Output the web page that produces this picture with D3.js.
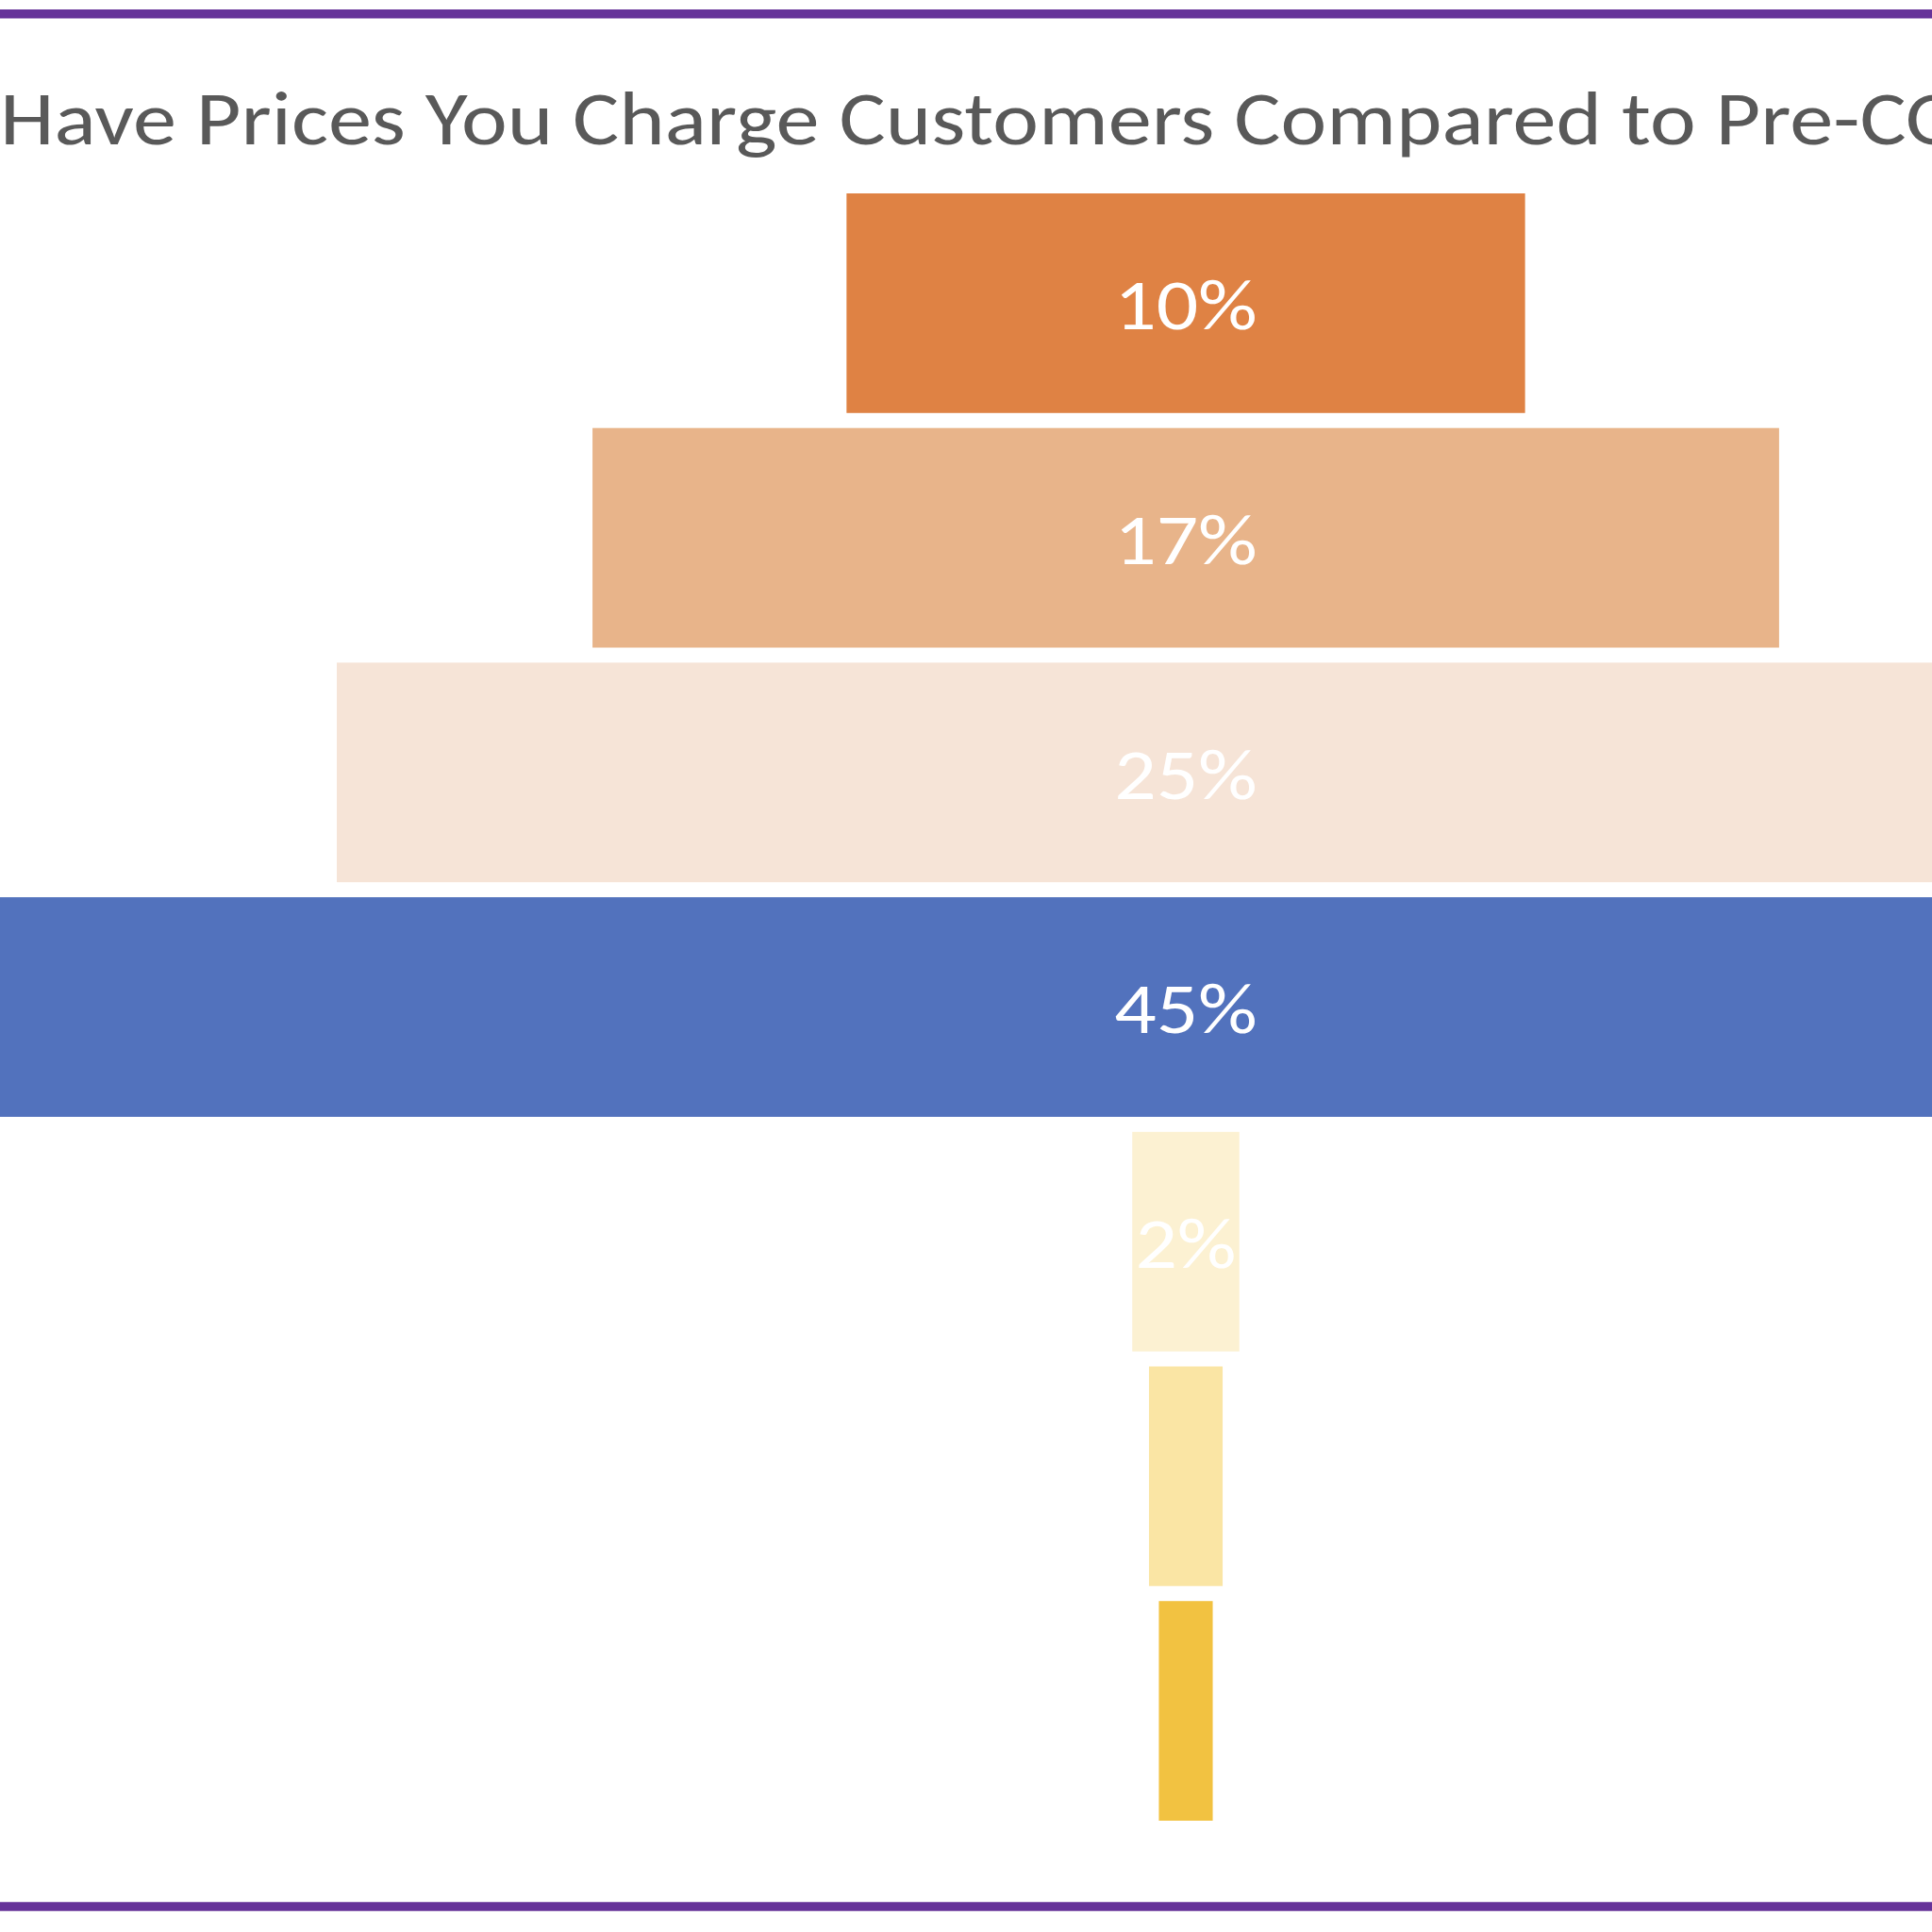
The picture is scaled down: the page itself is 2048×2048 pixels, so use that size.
<!DOCTYPE html>
<html>
<head>
<meta charset="utf-8">
<script src="https://cdn.jsdelivr.net/npm/d3@7"></script>
<style>
    html, body { margin: 0; padding: 0; background: #fff; overflow: hidden; }
    .container { width: 2048px; height: 2048px; }
</style>
</head>
<body>
<div class="container"></div>
<script>
const TITLE = "How Have Prices You Charge Customers Compared to Pre-COVID?";
const categories = ["Increased more than 10%", "Increased 5-10%", "Increased 1-4%", "No change",
    "Decreased 1-4%", "Decreased 5-10%", "Decreased more than 10%"];
const values = [0.0995, 0.174, 0.249, 0.45, 0.0157, 0.0108, 0.0079];
const colors = ["#df8244", "#e8b48a", "#f6e4d7", "#5272bd", "#fcf1d2", "#fae5a4", "#f2c241"];

const render = () => {
    const width = 2048,
        height = 2048,
        cx = 1257,
        data = categories.map((c, i) => ({category: c, value: values[i], color: colors[i]}));

    const svg = d3.select('.container')
        .append('svg')
        .attr('width', width)
        .attr('height', height)
        .style('font-family', "Carlito, Calibri, 'Open Sans', sans-serif");

    // purple rules top and bottom
    svg.selectAll('.rule')
        .data([14.7, 2021])
        .enter()
        .append('line')
        .attr('class', 'rule')
        .attr('x1', 0)
        .attr('x2', width)
        .attr('y1', d => d)
        .attr('y2', d => d)
        .attr('stroke', '#663399')
        .attr('stroke-width', 9.5);

    // title: text is wider than the picture, the visible part runs from "Have" to "Pre-CO"
    const title = svg.append('text')
        .attr('font-size', 81)
        .attr('fill', '#595959');
    const measure = s => { title.text(s); return title.node().getComputedTextLength(); };
    const wPrefix = measure("How Have") - measure("Have"),
        wVisible = measure("Have Prices You Charge Customers Compared to Pre-C"),
        k = 2021 / wVisible;
    title.text(TITLE)
        .attr('transform', `translate(${-k * wPrefix},153) scale(${k},1)`);

    const x = d3.scaleLinear()
        .domain([0, 0.45])
        .range([0, 3253]);

    const y = d3.scaleBand()
        .domain(categories)
        .range([205, 1930])
        .paddingInner(0.064)
        .paddingOuter(0);

    svg.selectAll('.bar')
        .data(data)
        .enter()
        .append('rect')
        .attr('class', 'bar')
        .attr('x', d => cx - x(d.value) / 2)
        .attr('y', d => y(d.category))
        .attr('width', d => x(d.value))
        .attr('height', y.bandwidth())
        .attr('fill', d => d.color);

    const fmt = d3.format('.0%');
    const labels = svg.selectAll('.label')
        .data(data)
        .enter()
        .append('text')
        .attr('class', 'label')
        .attr('text-anchor', 'middle')
        .attr('font-size', 77)
        .attr('dy', '0.36em')
        .attr('fill', '#fff')
        .attr('transform', d => `translate(${cx},${y(d.category) + y.bandwidth() / 2}) scale(${k},1)`)
        .text(d => fmt(d.value));

    // drop labels that don't fit inside their bar
    labels.filter(function(d) { return this.getComputedTextLength() * k + 6 > x(d.value); }).remove();
};

render();
</script>
</body>
</html>
